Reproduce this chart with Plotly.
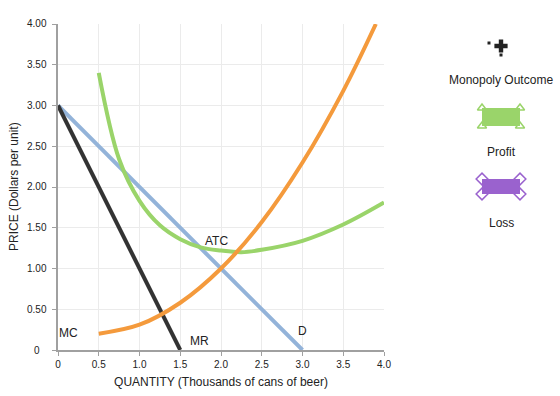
import plotly.graph_objects as go

# ---- data ----
q_lin = [0.0, 1.5, 3.0]
demand = [3.0, 1.5, 0.0]
q_mr = [0.0, 1.5]
mr = [3.0, 0.0]
q_mc = [0.5, 1.0, 1.5, 2.0, 2.5, 3.0, 3.5, 3.9]
mc = [0.20, 0.31, 0.58, 1.00, 1.57, 2.30, 3.18, 4.00]
q_atc = [0.5, 0.75, 1.0, 1.25, 1.5, 1.75, 2.0, 2.25, 2.5, 3.0, 3.5, 4.0]
atc = [3.40, 2.34, 1.83, 1.53, 1.36, 1.26, 1.22, 1.20, 1.23, 1.34, 1.54, 1.81]

x_ticks = [0, 0.5, 1.0, 1.5, 2.0, 2.5, 3.0, 3.5, 4.0]
x_labels = ["0", "0.5", "1.0", "1.5", "2.0", "2.5", "3.0", "3.5", "4.0"]
y_ticks = [0, 0.5, 1.0, 1.5, 2.0, 2.5, 3.0, 3.5, 4.0]
y_labels = ["0", "0.50", "1.00", "1.50", "2.00", "2.50", "3.00", "3.50", "4.00"]

curve_labels = [("MC", 0.13, 0.21), ("MR", 1.74, 0.11), ("D", 3.0, 0.23), ("ATC", 1.95, 1.34)]

C_D = "#93B3D9"
C_MR = "#333333"
C_MC = "#F49A3C"
C_ATC = "#9AD46A"
C_LOSS = "#9A62CE"
C_TXT = "#222222"

W, H = 560, 396
FONT = "Liberation Sans, Arial, sans-serif"

fig = go.Figure()
fig.add_trace(go.Scatter(x=q_lin, y=demand, mode="lines", line=dict(color=C_D, width=4), hoverinfo="skip"))
fig.add_trace(go.Scatter(x=q_mr, y=mr, mode="lines", line=dict(color=C_MR, width=4), hoverinfo="skip"))
fig.add_trace(go.Scatter(x=q_atc, y=atc, mode="lines", line=dict(color=C_ATC, width=4, shape="spline"), hoverinfo="skip"))
fig.add_trace(go.Scatter(x=q_mc, y=mc, mode="lines", line=dict(color=C_MC, width=4, shape="spline"), hoverinfo="skip"))

for txt, xx, yy in curve_labels:
    fig.add_annotation(x=xx, y=yy, text=txt, showarrow=False, xref="x", yref="y",
                       font=dict(size=12, color=C_TXT, family=FONT))

# y tick labels are centred in the reference, so draw them as centred text
for val, lab in zip(y_ticks, y_labels):
    fig.add_annotation(x=37 / W, y=val, xref="paper", yref="y", text=lab, showarrow=False,
                       xanchor="center", yanchor="middle", font=dict(size=10, color=C_TXT, family=FONT))

# y axis title
fig.add_annotation(x=14 / W, y=2.0, xref="paper", yref="y", text="PRICE (Dollars per unit)",
                   textangle=-90, showarrow=False, xanchor="center", yanchor="middle",
                   font=dict(size=12, color=C_TXT, family=FONT))

# ---- legend icons on a hidden pixel-space axis ----
fig.add_trace(go.Scatter(x=[501], y=[46], xaxis="x2", yaxis="y2", mode="markers",
                         marker=dict(symbol="cross", size=11, color=C_TXT), hoverinfo="skip"))
fig.add_trace(go.Scatter(x=[489, 501], y=[43, 55], xaxis="x2", yaxis="y2", mode="markers",
                         marker=dict(symbol="square", size=3, color=C_TXT), hoverinfo="skip"))
fig.add_shape(type="rect", xref="x2", yref="y2", x0=482, x1=520, y0=108, y1=126,
              fillcolor=C_ATC, line=dict(width=0))
fig.add_trace(go.Scatter(x=[482, 520, 482, 520], y=[108, 108, 126, 126], xaxis="x2", yaxis="y2",
                         mode="markers", marker=dict(symbol="triangle-up", size=8, color="white",
                                                     line=dict(color=C_ATC, width=1.5)), hoverinfo="skip"))
fig.add_shape(type="rect", xref="x2", yref="y2", x0=482, x1=520, y0=179, y1=194,
              fillcolor=C_LOSS, line=dict(width=0))
fig.add_trace(go.Scatter(x=[482, 520, 482, 520], y=[179, 179, 194, 194], xaxis="x2", yaxis="y2",
                         mode="markers", marker=dict(symbol="diamond", size=9, color="white",
                                                     line=dict(color=C_LOSS, width=1.5)), hoverinfo="skip"))
for txt, yy in [("Monopoly Outcome", 80), ("Profit", 152), ("Loss", 223)]:
    fig.add_annotation(x=501, y=yy, xref="x2", yref="y2", text=txt, showarrow=False,
                       font=dict(size=12, color=C_TXT, family=FONT))

axis_common = dict(showline=True, linecolor="#A0A0A0", linewidth=2, showgrid=True,
                   gridcolor="#EBEBEB", gridwidth=1, zeroline=False, ticks="outside",
                   ticklen=4, tickcolor="#A0A0A0", tickwidth=1, automargin=False,
                   tickfont=dict(size=10, color=C_TXT, family=FONT))

fig.update_layout(
    width=W, height=H, margin=dict(l=0, r=0, t=0, b=0, autoexpand=False),
    paper_bgcolor="white", plot_bgcolor="rgba(0,0,0,0)", showlegend=False,
    font=dict(family=FONT),
    xaxis=dict(domain=[58 / W, 384 / W], range=[0, 4], tickvals=x_ticks, ticktext=x_labels,
               title=dict(text="QUANTITY (Thousands of cans of beer)", font=dict(size=12, color=C_TXT), standoff=9),
               anchor="y", **axis_common),
    yaxis=dict(domain=[46 / H, 372 / H], range=[0, 4], tickvals=y_ticks, showticklabels=False,
               anchor="x", **axis_common),
    xaxis2=dict(domain=[0, 1], range=[0, W], visible=False, anchor="y2", fixedrange=True, automargin=False),
    yaxis2=dict(domain=[0, 1], range=[H, 0], visible=False, anchor="x2", fixedrange=True, automargin=False),
)

fig.write_html("out.html")
